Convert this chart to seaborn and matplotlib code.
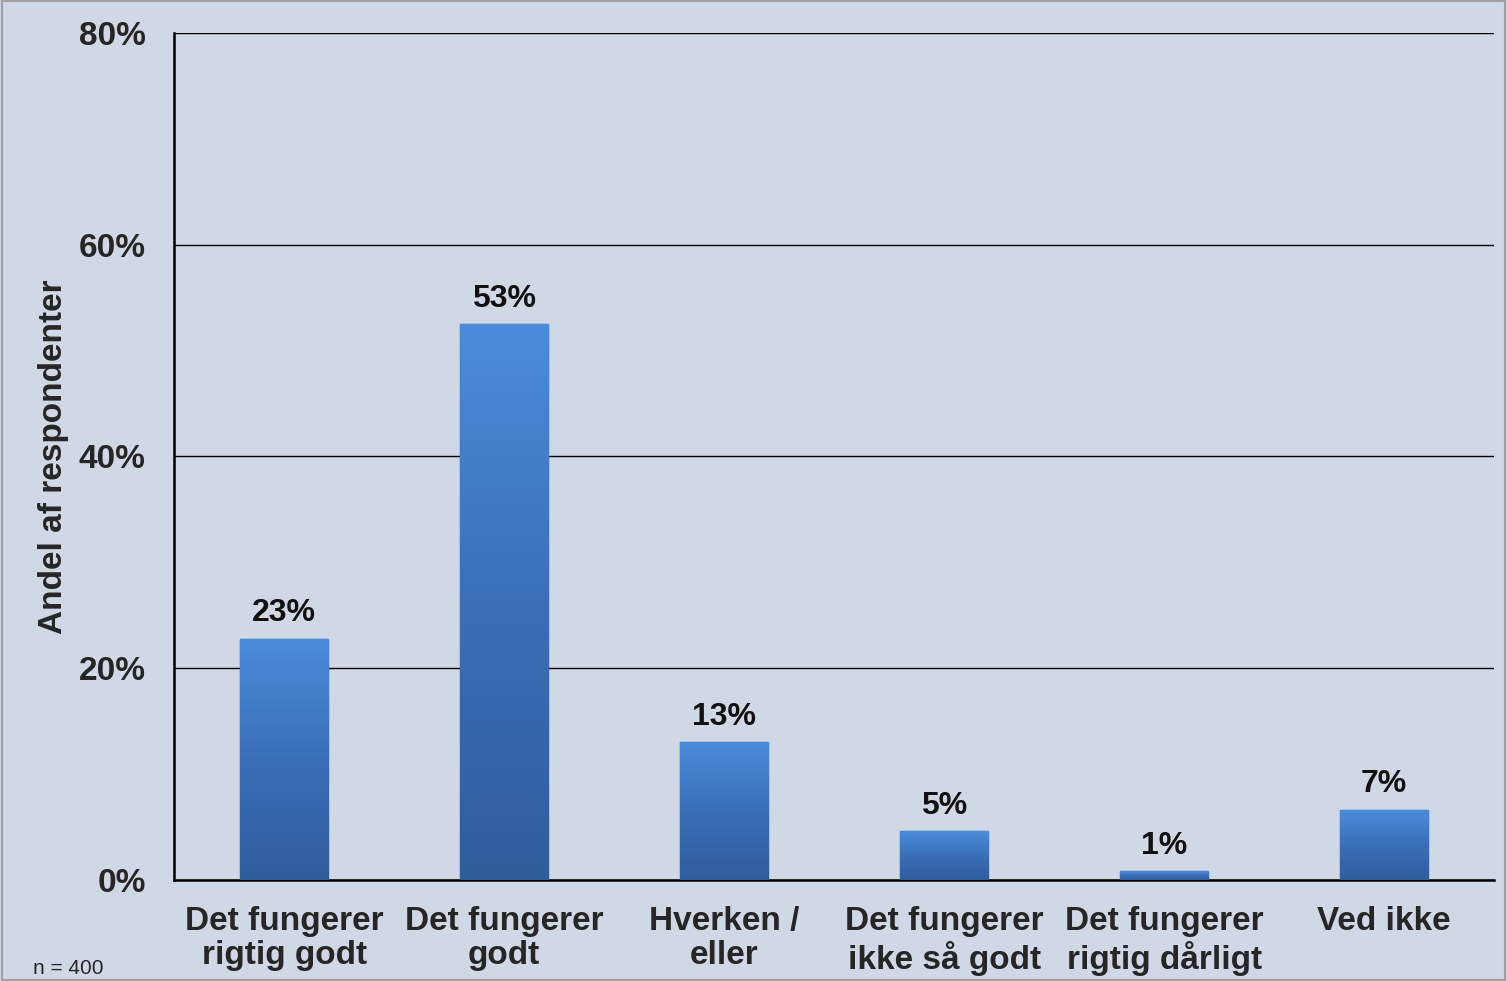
import numpy as np
import pandas as pd
import matplotlib.pyplot as plt
import seaborn as sns
from matplotlib.colors import LinearSegmentedColormap

categories = ['Det fungerer\nrigtig godt', 'Det fungerer\ngodt', 'Hverken /\neller',
              'Det fungerer\nikke så godt', 'Det fungerer\nrigtig dårligt', 'Ved ikke']
values = [22.8, 52.5, 13.0, 4.6, 0.8, 6.6]
value_labels = ['23%', '53%', '13%', '5%', '1%', '7%']
yticks = [0, 20, 40, 60, 80]

df = pd.DataFrame({'kategori': categories, 'andel': values})

sns.set_style('white')
plt.rcParams['font.family'] = ['Liberation Sans', 'DejaVu Sans']
bg = '#D0D8E6'

fig = plt.figure(figsize=(15.07, 9.81), dpi=100, facecolor=bg)
ax = fig.add_axes([0.1155, 0.103, 0.876, 0.8634])
ax.set_facecolor(bg)

sns.barplot(data=df, x='kategori', y='andel', color='#3C72BC', width=0.4,
            edgecolor='#2A5590', linewidth=1, ax=ax, zorder=3)

# vertical gradient fill on each bar
cmap = LinearSegmentedColormap.from_list('bar', ['#4A8CDB', '#3A6FB8', '#2F5D9C'])
grad = np.linspace(0, 1, 256).reshape(-1, 1)
for p in ax.patches:
    x0, y0 = p.get_x(), p.get_y()
    w, h = p.get_width(), p.get_height()
    im = ax.imshow(grad, cmap=cmap, aspect='auto', extent=[x0, x0 + w, y0, y0 + h],
                   origin='upper', zorder=3.5)
    im.set_clip_path(p)

for i, (v, lab) in enumerate(zip(values, value_labels)):
    ax.text(i, v + 1.0, lab, ha='center', va='bottom', fontsize=23, fontweight='bold',
            color='#111111', zorder=5)

ax.set_xlim(-0.5, len(categories) - 0.5)
ax.set_ylim(0, 80)
ax.set_yticks(yticks)
ax.set_yticklabels([f'{t}%' for t in yticks], fontsize=24, fontweight='bold')
ax.yaxis.grid(True, color='black', linewidth=1)
ax.set_axisbelow(True)

ax.set_xticks(range(len(categories)))
ax.set_xticklabels(categories, fontsize=24, fontweight='bold', linespacing=1.12)
ax.tick_params(axis='x', length=0, pad=19)
ax.set_xticks(np.arange(-0.5, len(categories), 1), minor=True)
ax.tick_params(axis='x', which='minor', length=6.5, width=1.5, direction='out', color='black')
ax.tick_params(axis='y', length=6.5, width=1.5, direction='out', color='black', pad=14)

ax.set_xlabel('')
ax.set_ylabel('Andel af respondenter', fontsize=24, fontweight='bold', labelpad=7)

for s in ['top', 'right']:
    ax.spines[s].set_visible(False)
for s in ['left', 'bottom']:
    ax.spines[s].set_color('black')
    ax.spines[s].set_linewidth(1.8)

fig.text(0.022, 0.003, 'n = 400', fontsize=15, ha='left', va='bottom')

fig.patches.append(plt.Rectangle((0.001, 0.001), 0.998, 0.998, transform=fig.transFigure,
                                 fill=False, edgecolor='#A0A0A0', linewidth=1.5))

fig.savefig('out.png', dpi=100, facecolor=bg)
